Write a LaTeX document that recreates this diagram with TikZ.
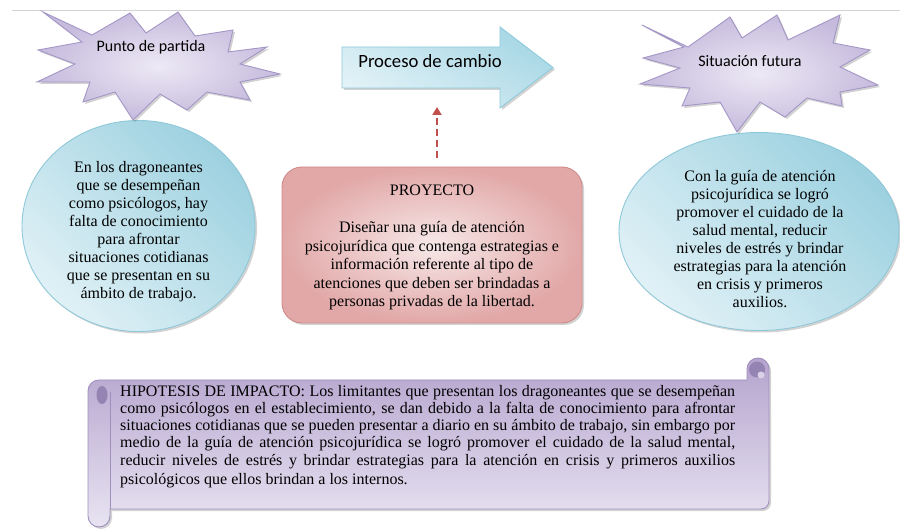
\documentclass[tikz,border=0pt]{standalone}
\usepackage{fontspec}
\setmainfont{Liberation Serif}
\newfontfamily\labfont{Carlito}
\usetikzlibrary{shapes.geometric,arrows.meta,shadows}
\definecolor{starin}{HTML}{EDE9F5}
\definecolor{starout}{HTML}{C6BBDD}
\definecolor{starline}{HTML}{A496C6}
\definecolor{bluelight}{HTML}{E0F1F6}
\definecolor{bluedark}{HTML}{9DD1E0}
\definecolor{blueline}{HTML}{8FC8D9}
\definecolor{pinklight}{HTML}{F7E8E8}
\definecolor{pinkdark}{HTML}{E2A8A8}
\definecolor{pinkline}{HTML}{CF8A8A}
\definecolor{scrolldark}{HTML}{B4A3CD}
\definecolor{scrolllight}{HTML}{E8E4F2}
\definecolor{scrollline}{HTML}{A08FBE}
\definecolor{curldark}{HTML}{9583B3}
\definecolor{dashred}{HTML}{C0504D}
\definecolor{rulegray}{HTML}{D3D3D3}
\definecolor{arrowdark}{HTML}{A7D7E5}
\definecolor{arrowlight}{HTML}{E2F2F7}
\definecolor{arrowline}{HTML}{8DCADB}
\begin{document}
\begin{tikzpicture}[x=1pt,y=-1pt,
  shadowed/.style={drop shadow={shadow xshift=2pt,shadow yshift=-2pt,opacity=0.25,fill=black!70}},
  burst/.style={draw=starline,line width=0.9pt,inner color=starin,outer color=starout,shadowed,line join=miter},
  bubble/.style={ellipse,draw=blueline,line width=0.9pt,top color=bluedark,bottom color=bluelight,shading angle=-45,shadowed,inner sep=0pt},
  panel/.style={rectangle,rounded corners=20pt,draw=pinkline,line width=0.9pt,inner color=pinklight,outer color=pinkdark,shadowed,inner sep=0pt},
  bigarrow/.style={draw=arrowline,line width=0.9pt,top color=arrowdark,bottom color=arrowlight,shading angle=-30,shadowed},
  scrollbody/.style={draw=scrollline,line width=0.9pt,top color=scrolldark,bottom color=scrolllight,shadowed},
  lab/.style={font=\labfont\fontsize{16}{19}\selectfont,inner sep=0pt},
  bodytext/.style={align=center,font=\fontsize{16}{18}\selectfont,inner sep=0pt},
  dasharrow/.style={dashred,line width=1.8pt,dash pattern=on 7pt off 4pt,-{Triangle[length=8pt,width=9pt]}}
]
\useasboundingbox (0,0) rectangle (900,529);
% top rule
\draw[rulegray,line width=0.8pt] (12,10) -- (900,10);

% bubbles
\node[bubble,minimum width=233pt,minimum height=211pt] (partida) at (138.5,226) {};
\node[bubble,minimum width=280pt,minimum height=198pt] (futura) at (759,231.5) {};

% project panel
\node[panel,minimum width=300pt,minimum height=156pt] (proyecto) at (432,245) {};

% change arrow
\path[bigarrow] (342,47) -- (500,47) -- (500,27) -- (553,67.5) -- (500,108) -- (500,88) -- (342,88) -- cycle;
\coordinate (cambiobase) at (437,107);
\coordinate (proyectotop) at (437,158);

% starbursts
\path[burst] (43,12) -- (92,35) -- (130,13) -- (146,33) -- (178,12) -- (195,36) -- (233,30) -- (228,52) -- (267,47) -- (240,64) -- (280,74) -- (240,82) -- (250,100) -- (207,92) -- (187,110) -- (160,94) -- (133,120) -- (115,92) -- (83,102) -- (90,82) -- (37,82) -- (75,64) -- (38,50) -- (82,42) -- cycle;
\path[burst] (642,25) -- (688,47) -- (730,17) -- (742,38) -- (777,15) -- (788,40) -- (840,15) -- (833,43) -- (870,50) -- (840,67) -- (878,85) -- (840,92) -- (842,106) -- (807,98) -- (785,117) -- (760,102) -- (737,132) -- (720,102) -- (682,106) -- (690,88) -- (640,84) -- (680,68) -- (643,58) -- (684,47) -- cycle;

% scroll
\path[scrollbody] (99,380) -- (747,380) -- (747,369) arc[start angle=180,end angle=360,radius=11] -- (769,501) arc[start angle=0,end angle=90,radius=8] -- (110,509) -- (110,516) arc[start angle=0,end angle=180,radius=11] -- (88,391) arc[start angle=180,end angle=270,radius=11] -- cycle;
\draw[scrollline,line width=0.7pt] (110,392) -- (110,509);
\fill[curldark] (102,395) ellipse[x radius=5.5,y radius=9];
\fill[curldark] (757,369.5) circle[radius=8];
\fill[scrolllight!70!scrolldark] (761,375) circle[radius=3.5];

% dashed arrow
\draw[dasharrow] (proyectotop) -- (cambiobase);

% labels
\node[lab,anchor=base] (tpartida) at (151,52) {Punto de partida};
\node[lab,anchor=base] (tfutura) at (750,66.5) {Situación futura};
\node[lab,font=\labfont\fontsize{18.7}{22}\selectfont,anchor=base] (tcambio) at (430,68) {Proceso de cambio};

\node[bodytext] (txtpartida) at (138.5,231.3) {En los dragoneantes\\que se desempeñan\\como psicólogos, hay\\falta de conocimiento\\para afrontar\\situaciones cotidianas\\que se presentan en su\\ámbito de trabajo.};
\node[bodytext] (txtfutura) at (760,239.5) {Con la guía de atención\\psicojurídica se logró\\promover el cuidado de la\\salud mental, reducir\\niveles de estrés y brindar\\estrategias para la atención\\en crisis y primeros\\auxilios.};
\node[bodytext,font=\fontsize{16}{18.5}\selectfont] (txtproyecto) at (432,247.5) {PROYECTO\\[18.5pt]Diseñar una guía de atención\\psicojurídica que contenga estrategias e\\información referente al tipo de\\atenciones que deben ser brindadas a\\personas privadas de la libertad.};

\node[anchor=north west,text width=615pt,inner sep=0pt,align=justify,font=\fontsize{16}{17.25}\selectfont] (hipotesis) at (120,384.7) {{\parfillskip=0pt HIPOTESIS DE IMPACTO: Los limitantes que presentan los dragoneantes que se desempeñan\linebreak como psicólogos en el establecimiento, se dan debido a la falta de conocimiento para afrontar\linebreak situaciones cotidianas que se pueden presentar a diario en su ámbito de trabajo, sin embargo por\linebreak medio de la guía de atención psicojurídica se logró promover el cuidado de la salud mental,\linebreak reducir niveles de estrés y brindar estrategias para la atención en crisis y primeros auxilios\par}\vspace{2.7pt}psicológicos que ellos brindan a los internos.};
\end{tikzpicture}
\end{document}
